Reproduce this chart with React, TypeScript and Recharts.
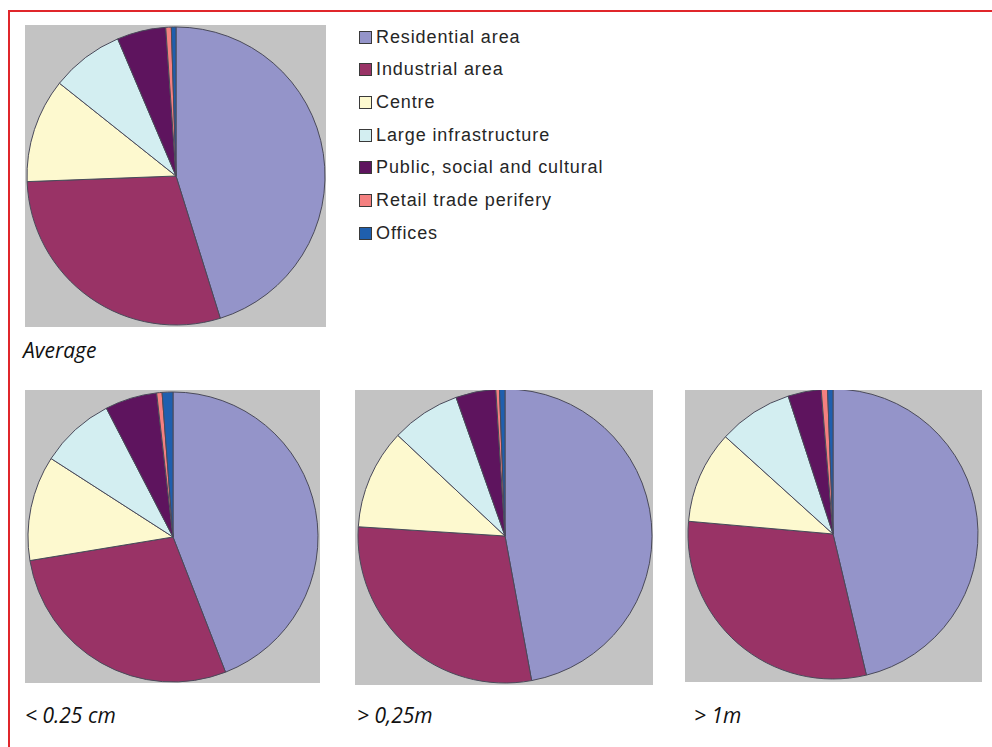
import React from "react";
import { PieChart, Pie, Cell } from "recharts";

// Land-use categories and their fill colours
const categories = [
  "Residential area",
  "Industrial area",
  "Centre",
  "Large infrastructure",
  "Public, social and cultural",
  "Retail trade perifery",
  "Offices",
];
const colors = ["#9494c9", "#993366", "#fdf9cf", "#d3eef1", "#5e145e", "#f48080", "#1f5fae"];

// Share (%) of each category per flood-depth class
const averageValues = [45.2, 29.2, 11.3, 7.9, 5.3, 0.6, 0.5];
const under025cmValues = [44.1, 28.3, 11.7, 8.3, 5.8, 0.6, 1.2];
const over025mValues = [47.1, 28.9, 11.0, 7.6, 4.4, 0.4, 0.6];
const over1mValues = [46.3, 30.1, 10.3, 8.3, 3.7, 0.7, 0.6];

const panelLabels = ["Average", "< 0.25 cm", "> 0,25m", "> 1m"];

const toRows = (values: number[]) => categories.map((name, i) => ({ name, value: values[i] }));

type PanelProps = {
  values: number[];
  left: number;
  top: number;
  width: number;
  height: number;
  cx: number;
  cy: number;
  r: number;
};

function PiePanel({ values, left, top, width, height, cx, cy, r }: PanelProps) {
  return (
    <div style={{ position: "absolute", left, top, width, height, background: "#c3c3c3" }}>
      <PieChart width={width} height={height} margin={{ top: 0, right: 0, bottom: 0, left: 0 }}>
        <Pie
          data={toRows(values)}
          dataKey="value"
          nameKey="name"
          cx={cx}
          cy={cy}
          outerRadius={r}
          startAngle={90}
          endAngle={-270}
          stroke="#4a4a5a"
          strokeWidth={1}
          isAnimationActive={false}
        >
          {values.map((_, i) => (
            <Cell key={i} fill={colors[i]} />
          ))}
        </Pie>
      </PieChart>
    </div>
  );
}

const labelStyle: React.CSSProperties = {
  position: "absolute",
  fontFamily: "'Open Sans', 'Noto Sans', sans-serif",
  fontStyle: "italic",
  fontSize: 21,
  color: "#111",
  lineHeight: "22px",
  whiteSpace: "nowrap",
};

export default function App() {
  return (
    <div
      style={{
        position: "absolute",
        left: 0,
        top: 0,
        width: 992,
        height: 747,
        background: "#ffffff",
        overflow: "hidden",
      }}
    >
      {/* frame lines */}
      <div style={{ position: "absolute", left: 8, top: 10, width: 984, height: 2, background: "#e0262b" }} />
      <div style={{ position: "absolute", left: 8, top: 10, width: 2, height: 737, background: "#e0262b" }} />

      <PiePanel values={averageValues} left={25} top={25} width={301} height={302} cx={151} cy={151} r={149} />
      <PiePanel values={under025cmValues} left={25} top={390} width={295} height={293} cx={148} cy={147} r={145} />
      <PiePanel values={over025mValues} left={355} top={390} width={298} height={295} cx={150} cy={146} r={147} />
      <PiePanel values={over1mValues} left={685} top={390} width={297} height={292} cx={148} cy={144} r={145} />

      {/* legend */}
      {categories.map((name, i) => (
        <div
          key={name}
          style={{
            position: "absolute",
            left: 359,
            top: 27 + i * 32.7,
            height: 20,
            display: "flex",
            alignItems: "center",
            fontFamily: "Arial, 'Liberation Sans', sans-serif",
            fontSize: 18,
            letterSpacing: 0.9,
            color: "#262626",
            whiteSpace: "nowrap",
          }}
        >
          <span
            style={{
              display: "inline-block",
              width: 11,
              height: 11,
              background: colors[i],
              border: "1px solid #3a3a3a",
              marginRight: 4,
            }}
          />
          {name}
        </div>
      ))}

      <div style={{ ...labelStyle, left: 23, top: 339 }}>{panelLabels[0]}</div>
      <div style={{ ...labelStyle, left: 25, top: 704 }}>{panelLabels[1]}</div>
      <div style={{ ...labelStyle, left: 357, top: 704 }}>{panelLabels[2]}</div>
      <div style={{ ...labelStyle, left: 694, top: 704 }}>{panelLabels[3]}</div>
    </div>
  );
}
